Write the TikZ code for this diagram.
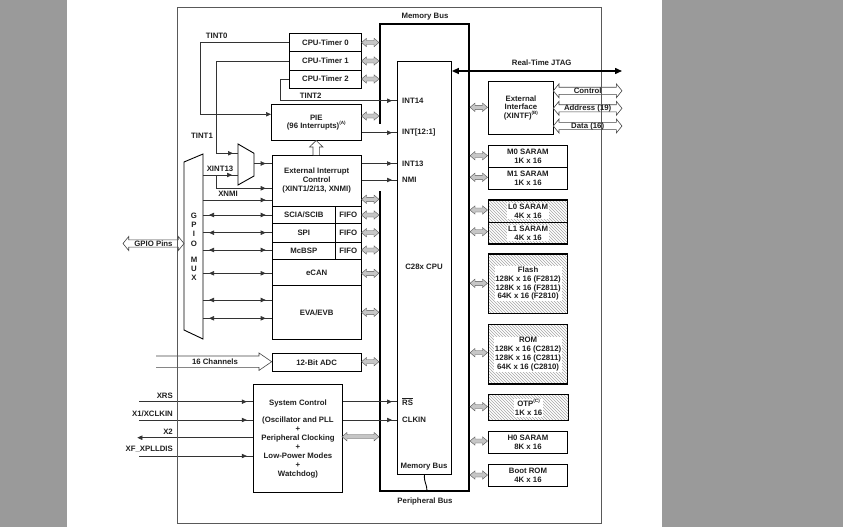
\documentclass[tikz,border=0pt]{standalone}
\usepackage{fontspec}
\setmainfont{Liberation Sans}
\usetikzlibrary{arrows.meta,decorations.markings,patterns}
\definecolor{bgside}{HTML}{9A9A9A}
\definecolor{txt}{HTML}{202020}
\newcommand{\supnote}[1]{\raisebox{0.55em}{\fontsize{4.6pt}{5pt}\selectfont(#1)}}
\newcommand{\gbarrow}[3]{\filldraw[fill=gray!45,draw=gray!65!black,line width=0.4pt]
  (#1,#3) -- ({#1+5},{#3-4.2}) -- ({#1+5},{#3-2}) -- ({#2-5},{#3-2}) -- ({#2-5},{#3-4.2}) -- (#2,#3)
  -- ({#2-5},{#3+4.2}) -- ({#2-5},{#3+2}) -- ({#1+5},{#3+2}) -- ({#1+5},{#3+4.2}) -- cycle;}
\newcommand{\hdbl}[3]{\filldraw[fill=white,draw=gray!55!black,line width=0.6pt]
  (#1,#3) -- ({#1+5.7},{#3-7}) -- ({#1+5.7},{#3-3.6}) -- ({#2-5.7},{#3-3.6}) -- ({#2-5.7},{#3-7}) -- (#2,#3)
  -- ({#2-5.7},{#3+7}) -- ({#2-5.7},{#3+3.6}) -- ({#1+5.7},{#3+3.6}) -- ({#1+5.7},{#3+7}) -- cycle;}
\begin{document}
\begin{tikzpicture}[x=1pt,y=-1pt,
  font=\fontsize{7.8pt}{8.9pt}\selectfont\bfseries,
  box/.style 2 args={draw=black,line width=0.9pt,fill=white,inner sep=0pt,anchor=north west,align=center,minimum width=#1pt,minimum height=#2pt,text=txt},
  lbl/.style={inner sep=0pt,text=txt},
  sig/.style={draw=black!80,line width=0.6pt},
  tipend/.style={postaction={decorate,decoration={markings,mark=at position -#1 with {\arrow{Triangle[length=5pt,width=4.4pt]}}}}},
  tipstart/.style={postaction={decorate,decoration={markings,mark=at position #1 with {\arrowreversed{Triangle[length=5pt,width=4.4pt]}}}}},
  tri/.style={-{Triangle[length=5pt,width=4.4pt]}},
  bus/.style={line width=2.5pt,line cap=rect},
  hatched/.style={pattern=north west lines,pattern color=gray!70,line width=1.2pt},
  hollow/.style={fill=white,draw=gray!55!black,line width=0.6pt},
]
\useasboundingbox (0,0) rectangle (843,527);
\fill[bgside] (0,0) rectangle (843,527);
\fill[white] (67,0) rectangle (662,527);

% ---------- buses ----------
\draw[bus] (380,123) |- (469,24);
\draw[line width=1.6pt] (469,24) -- (469,491);
\draw[bus] (469,491) -| (380,192);

% ---------- left column boxes ----------
\node[box={72}{18.3}] (t0) at (289,33) {CPU-Timer 0};
\node[box={72}{18.3}] (t1) at (289,51.3) {CPU-Timer 1};
\node[box={72}{18.3}] (t2) at (289,69.6) {CPU-Timer 2};
\node[box={89.7}{35.7}] (pie) at (271,104.3) {PIE\\(96 Interrupts)\supnote{A}};
\node[box={89}{50.7}] (eic) at (271.7,155) {External Interrupt\\Control\\(XINT1/2/13, XNMI)};
\node[box={63.3}{17.6}] (sci) at (271.7,205.7) {SCIA/SCIB};
\node[box={25.7}{17.6}] (f1) at (335,205.7) {FIFO};
\node[box={63.3}{18.4}] (spi) at (271.7,223.3) {SPI};
\node[box={25.7}{18.4}] (f2) at (335,223.3) {FIFO};
\node[box={63.3}{17.6}] (mcb) at (271.7,241.7) {McBSP};
\node[box={25.7}{17.6}] (f3) at (335,241.7) {FIFO};
\node[box={89}{25.7}] (ecan) at (271.7,259.3) {eCAN};
\node[box={89}{54.3}] (eva) at (271.7,285) {EVA/EVB};
\node[box={89}{18.3}] (adc) at (271.7,352.7) {12-Bit ADC};
\node[box={88.4}{108.3}] (sys) at (253.3,384) {System Control\\[8.9pt](Oscillator and PLL\\+\\Peripheral Clocking\\+\\Low-Power Modes\\+\\Watchdog)};

% ---------- CPU ----------
\node[box={54}{413}] (cpu) at (397,61) {};
\node[lbl,anchor=west] (lint14) at (402,100.7) {INT14};
\node[lbl,anchor=west] (lint12) at (402,132.7) {INT[12:1]};
\node[lbl,anchor=west] (lint13) at (402,163.5) {INT13};
\node[lbl,anchor=west] (lnmi) at (402,180) {NMI};
\node[lbl] (lcpu) at (424,266.7) {C28x CPU};
\node[lbl,anchor=west] (lrs) at (402,401.7) {$\overline{\mbox{RS}}$};
\node[lbl,anchor=west] (lclk) at (402,420) {CLKIN};
\node[lbl] (lmbin) at (424,466.7) {Memory Bus};
\draw[line width=0.9pt] (cpu.south) .. controls (424,483) and (427,484) .. (427,491);

% ---------- memory side ----------
\node[box={65}{53.6}] (xintf) at (488,80.7) {External\\Interface\\(XINTF)\supnote{B}};
\node[box={79}{22}] (m0) at (488,144.7) {M0 SARAM\\1K x 16};
\node[box={79}{22}] (m1) at (488,166.7) {M1 SARAM\\1K x 16};
\node[box={79}{22.4},hatched] (l0) at (488,199.3) {};
\node[box={79}{21.6},hatched] (l1) at (488,221.7) {};
\node[box={79}{59.4},hatched] (flash) at (488,253.3) {};
\node[box={79}{59.3},hatched] (rom) at (488,324) {};
\node[box={80}{26},hatched] (otp) at (488,394) {};
\node[box={79}{22.3}] (h0) at (488,431) {H0 SARAM\\8K x 16};
\node[box={79}{22}] (boot) at (488,464) {Boot ROM\\4K x 16};
\node[lbl,fill=white,inner sep=0.8pt,align=center] (l0t) at (l0.center) {L0 SARAM\\4K x 16};
\node[lbl,fill=white,inner sep=0.8pt,align=center] (l1t) at (l1.center) {L1 SARAM\\4K x 16};
\node[lbl,fill=white,inner sep=0.8pt,align=center] (flt) at (flash.center) {Flash\\128K x 16 (F2812)\\128K x 16 (F2811)\\64K x 16 (F2810)};
\node[lbl,fill=white,inner sep=0.8pt,align=center] (romt) at (rom.center) {ROM\\128K x 16 (C2812)\\128K x 16 (C2811)\\64K x 16 (C2810)};
\node[lbl,fill=white,inner sep=0.8pt,align=center] (otpt) at (otp.center) {OTP\supnote{C}\\1K x 16};

% ---------- gray bus arrows ----------
\foreach \yy in {42.5,61,79,116,199.3,215,232.7,250,273.3,312.3,361.7} {\gbarrow{361.5}{379}{\yy}}
\gbarrow{342}{379}{436.7}
\foreach \yy in {107.3,155.7,177.3,210,231.7,283.3,352.7,406.7,441,475} {\gbarrow{470}{487.5}{\yy}}

% ---------- muxes ----------
\filldraw[fill=white,draw=black,line width=0.9pt] (184,162) -- (203,154) -- (203,339) -- (184,330) -- cycle;
\node[lbl,align=center,font=\fontsize{7.8pt}{9.2pt}\selectfont\bfseries] (gmuxt) at (194,246.8) {G\\P\\I\\O\\[6.8pt]M\\U\\X};
\coordinate (gmuxR) at (203,250);
\filldraw[fill=white,draw=black,line width=0.9pt] (238,144) -- (254,153.3) -- (254,176) -- (238,185) -- cycle;
\coordinate (smuxout) at (254,163.5);
\coordinate (smuxin) at (238,164);

% ---------- interrupt connectors ----------
\draw[sig,tri] (t0.west) -| (200.7,114.3) -- (pie.west |- 0,114.3);
\draw[sig,tipend=5pt] (t1.west) -| (216.7,153.3) -- (smuxin |- 0,153.3);
\draw[sig,tipend=5pt] (t2.west) -| (280,100.7) -- (cpu.west |- 0,100.7);
\draw[sig,tipend=5pt] (pie.east |- 0,132.7) -- (cpu.west |- 0,132.7);
\draw[sig,tipend=5pt] (eic.east |- 0,163.5) -- (cpu.west |- 0,163.5);
\draw[sig,tipend=5pt] (eic.east |- 0,180) -- (cpu.west |- 0,180);
\draw[sig,tipend=6pt] (smuxout) -- (eic.west |- smuxout);
\draw[sig,tipend=6pt] (gmuxR |- 0,175) -- (smuxin |- 0,175);
\draw[sig,tipend=6pt] (216.7,175) |- (eic.west |- 0,188.3);
\draw[sig,tipend=6pt] (gmuxR |- 0,200) -- (eic.west |- 0,200);
\foreach \yy in {215,232.7,250,273.3,300,318.3} {\draw[sig,tipstart=6pt,tipend=6pt] (gmuxR |- 0,\yy) -- (eic.west |- 0,\yy);}

\node[lbl] (lt0) at (216.7,35.7) {TINT0};
\node[lbl] (lt1) at (202,135.5) {TINT1};
\node[lbl] (lt2) at (310.7,96) {TINT2};
\node[lbl] (lx13) at (220,169) {XINT13};
\node[lbl] (lxnmi) at (228,194.3) {XNMI};

% ---------- system control connectors ----------
\coordinate (xrsin) at (139.3,401.7);
\coordinate (xclkin) at (139.3,420);
\coordinate (x2out) at (137.3,437.7);
\coordinate (xfin) at (139.3,456);
\draw[sig,tipend=6.5pt] (xrsin) -- (sys.west |- xrsin);
\draw[sig,tipend=6.5pt] (xclkin) -- (sys.west |- xclkin);
\draw[sig,tri] (sys.west |- x2out) -- (x2out);
\draw[sig,tipend=6.5pt] (xfin) -- (sys.west |- xfin);
\draw[sig,tipend=5pt] (sys.east |- xrsin) -- (cpu.west |- xrsin);
\draw[sig,tipend=5pt] (sys.east |- xclkin) -- (cpu.west |- xclkin);
\node[lbl,anchor=east] (lxrs) at (173,396) {XRS};
\node[lbl,anchor=east] (lx1) at (173,413.3) {X1/XCLKIN};
\node[lbl,anchor=east] (lx2) at (173,431.7) {X2};
\node[lbl,anchor=east] (lxf) at (173,449.3) {XF\_XPLLDIS};

% ---------- hollow arrows ----------
\hdbl{123}{184}{243.5}
\filldraw[hollow] (156,356) -- (259,356) -- (259,353) -- (adc.west |- 0,361.7) -- (259,370.4) -- (259,367.4) -- (156,367.4);
\filldraw[hollow] (313,155) -- (313,147) -- (309.5,147) -- (316.2,140.5) -- (322.9,147) -- (319.4,147) -- (319.4,155);
\hdbl{553.3}{622}{90.8}
\hdbl{553.3}{622}{108.3}
\hdbl{553.3}{622}{126}

% ---------- frame ----------
\draw[gray!70!black,line width=0.6pt] (177,7) rectangle (601,523);

% ---------- JTAG ----------
\coordinate (jtagend) at (622,71);
\draw[line width=1.4pt,{Triangle[length=7pt,width=6pt]}-{Triangle[length=7pt,width=6pt]}] (cpu.east |- jtagend) -- (jtagend);

% ---------- labels ----------
\node[lbl] (lgpio) at (153.5,243.5) {GPIO Pins};
\node[lbl] (l16) at (215,362) {16 Channels};
\node[lbl] (lctl) at (587.7,90.8) {Control};
\node[lbl] (ladr) at (587.7,108.3) {Address (19)};
\node[lbl] (ldat) at (587.7,126) {Data (16)};
\node[lbl] (lmb) at (425,16.7) {Memory Bus};
\node[lbl] (lpb) at (425,501.7) {Peripheral Bus};
\node[lbl] (ljt) at (541.7,62.7) {Real-Time JTAG};
\end{tikzpicture}
\end{document}
